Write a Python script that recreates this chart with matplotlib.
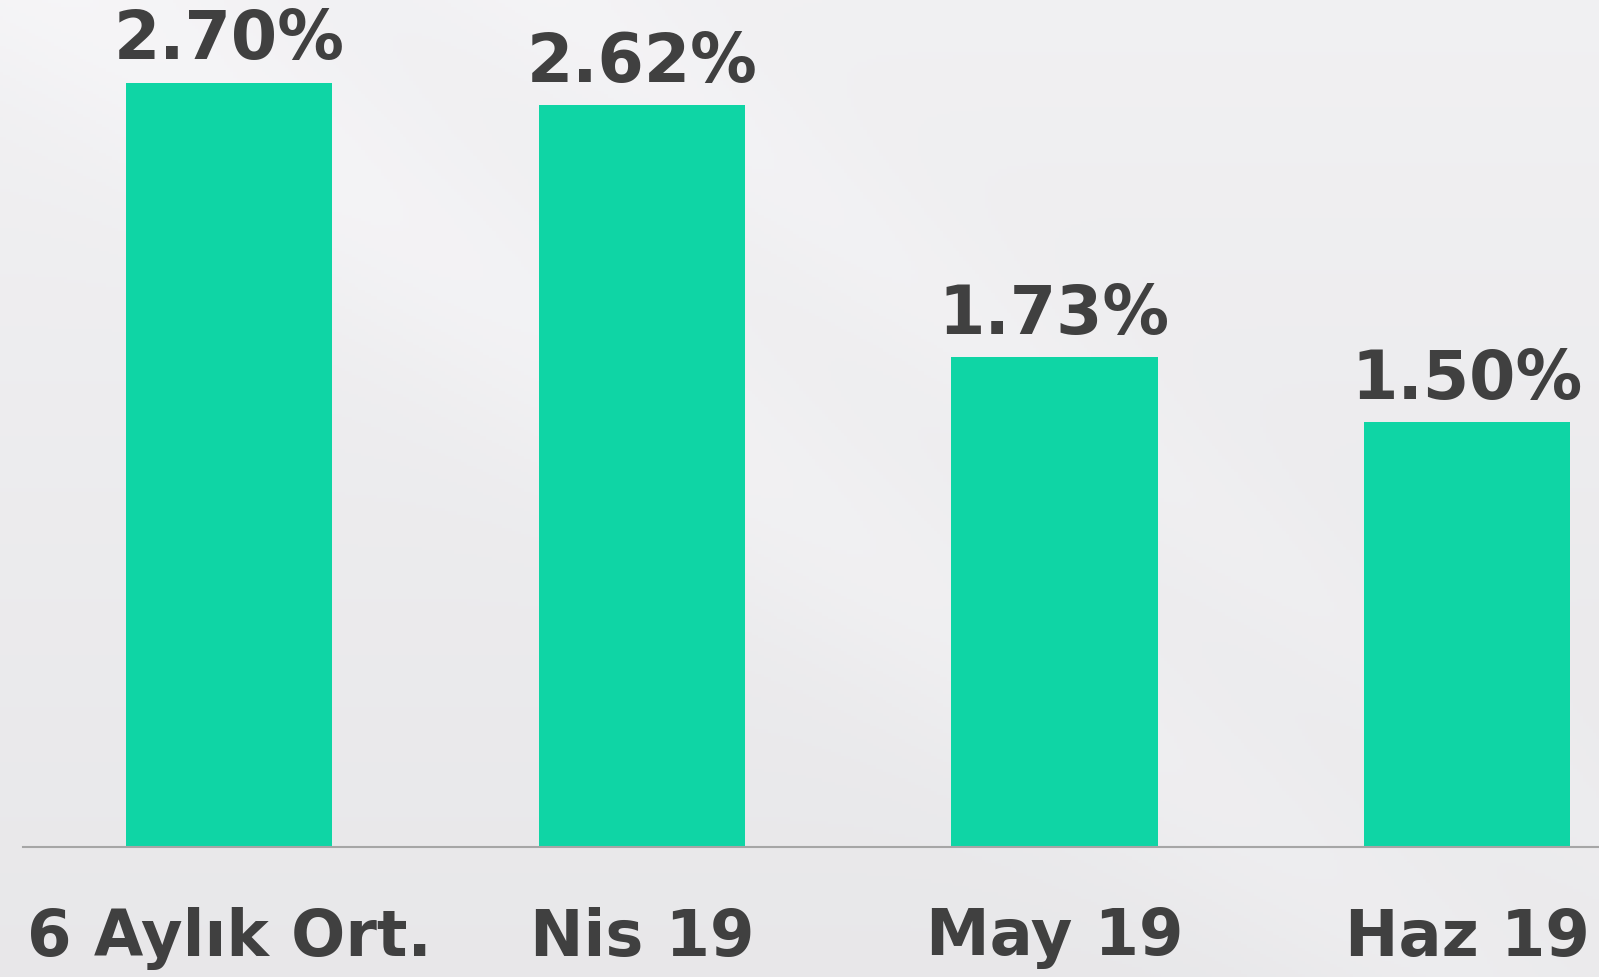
import numpy as np
import matplotlib.pyplot as plt

categories = ['6 Aylık Ort.', 'Nis 19', 'May 19', 'Haz 19']
values = [2.70, 2.62, 1.73, 1.50]
value_labels = ['2.70%', '2.62%', '1.73%', '1.50%']

W, H = 1599, 977
fig = plt.figure(figsize=(W / 100, H / 100), dpi=100)

# background: soft grey gradient with a lighter diagonal sheen
bg = fig.add_axes([0, 0, 1, 1], zorder=0)
yy, xx = np.mgrid[0:1:300j, 0:1:500j]
base = 0.945 - 0.035 * yy
band = 0.018 * np.exp(-((yy - (xx * 1.15 - 0.05)) ** 2) / 0.02)
band2 = 0.012 * np.exp(-((yy - (xx * 1.3 - 0.45)) ** 2) / 0.01)
g = np.clip(base + band + band2, 0, 1)
img = np.dstack([g, g - 0.002, g + 0.006])
bg.imshow(np.clip(img, 0, 1), extent=[0, 1, 0, 1], aspect='auto', origin='upper')
bg.axis('off')

# axes geometry in pixels
px_unit = 412.7
left_px = 22.7        # x = -0.5
y0_px = 130           # baseline from bottom
py_unit = 283.1
ymax = 3.0
ax = fig.add_axes([left_px / W, y0_px / H, 4 * px_unit / W, ymax * py_unit / H], zorder=1)
ax.patch.set_alpha(0)

x = np.arange(len(categories))
ax.bar(x, values, width=0.5, color='#0FD5A5', zorder=2)
ax.set_xlim(-0.5, 3.5)
ax.set_ylim(0, ymax)

for xi, v, lab in zip(x, values, value_labels):
    ax.annotate(lab, (xi, v), xytext=(0, 7), textcoords='offset points',
                ha='center', va='bottom', fontsize=48, fontweight='bold',
                color='#404040', family='DejaVu Sans', annotation_clip=False)

ax.set_xticks(x)
ax.set_xticklabels(categories, fontsize=46, fontweight='bold', color='#404040',
                   family='DejaVu Sans')
ax.tick_params(axis='x', length=0, pad=43)
ax.set_yticks([])
for s in ['top', 'right', 'left']:
    ax.spines[s].set_visible(False)
ax.spines['bottom'].set_color('#A6A6A6')
ax.spines['bottom'].set_linewidth(1.5)

fig.savefig('out.png', dpi=100)
